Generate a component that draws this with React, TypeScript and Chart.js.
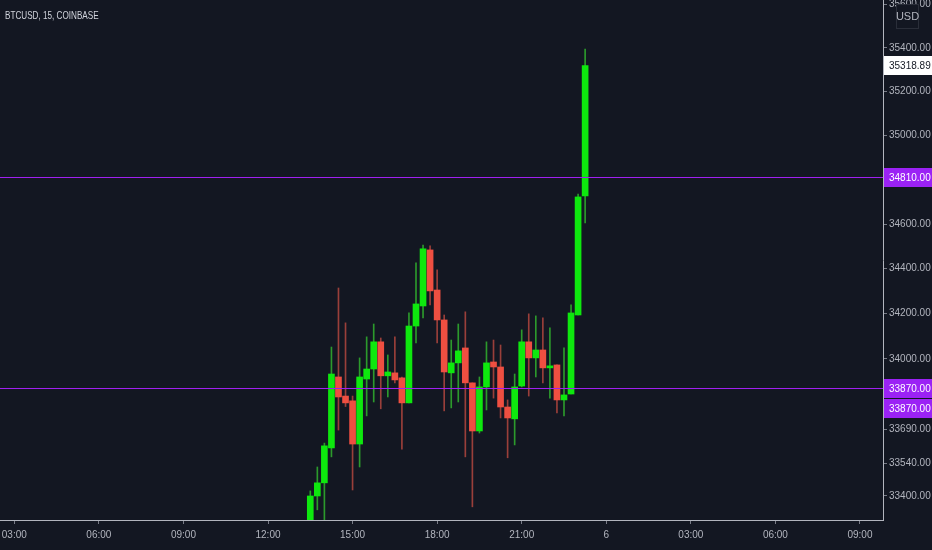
import { useEffect, useRef } from "react";
import { Chart, registerables } from "chart.js";

Chart.register(...registerables);

// 15 minute candles, 5th of the month
const times = [
  "13:30", "13:45", "14:00", "14:15", "14:30", "14:45", "15:00", "15:15",
  "15:30", "15:45", "16:00", "16:15", "16:30", "16:45", "17:00", "17:15",
  "17:30", "17:45", "18:00", "18:15", "18:30", "18:45", "19:00", "19:15",
  "19:30", "19:45", "20:00", "20:15", "20:30", "20:45", "21:00", "21:15",
  "21:30", "21:45", "22:00", "22:15", "22:30", "22:45", "23:00", "23:15",
];
const opens = [
  33275, 33400, 33457, 33609, 33920, 33836, 33815, 33626,
  33911, 33955, 34075, 33925, 33938, 33916, 33806, 34145,
  34234, 34484, 34305, 34172, 33938, 33982, 34048, 33894,
  33683, 33876, 33986, 33964, 33788, 33736, 33880, 34075,
  34004, 34039, 33960, 33973, 33819, 33845, 34194, 34726,
];
const highs = [
  33422, 33526, 33630, 34052, 34314, 34159, 33836, 34004,
  34097, 34154, 34092, 34017, 34097, 33920, 34203, 34426,
  34506, 34502, 34395, 34194, 34083, 34154, 34208, 33894,
  33920, 34075, 34083, 34061, 33819, 33933, 34128, 34199,
  34190, 34181, 34137, 33973, 34048, 34239, 34735, 35395,
];
const lows = [
  33240, 33340, 33280, 33570, 33687, 33790, 33426, 33526,
  33749, 33810, 33780, 33832, 33894, 33604, 33806, 34070,
  34181, 34239, 34070, 33771, 33784, 33810, 33570, 33353,
  33674, 33775, 33827, 33740, 33566, 33622, 33876, 33836,
  33920, 33894, 33827, 33762, 33749, 33845, 34194, 34605,
];
const closes = [
  33400, 33457, 33618, 33933, 33832, 33806, 33626, 33920,
  33955, 34075, 33925, 33942, 33907, 33806, 34145, 34243,
  34489, 34301, 34172, 33942, 33982, 34035, 33894, 33683,
  33876, 33982, 33964, 33788, 33740, 33876, 34075, 34004,
  34039, 33960, 33969, 33819, 33841, 34203, 34722, 35318.89,
];

const priceTicks = [33400, 33540, 33690, 34000, 34200, 34400, 34600, 35000, 35200, 35400, 35600];
const timeTickMinutes = [180, 360, 540, 720, 900, 1080, 1260, 1440, 1620, 1800, 1980];
const timeTickLabels = ["03:00", "06:00", "09:00", "12:00", "15:00", "18:00", "21:00", "6", "03:00", "06:00", "09:00"];

const levels = [34810, 33870];
const lastPrice = 35318.89;
const title = "BTCUSD, 15, COINBASE";

const BG = "#131722";
const TEXT = "#b2b5be";
const UP = "#0ee80e";
const DOWN = "#ef4f41";
const UP_WICK = "#2c9a2c";
const DOWN_WICK = "#9a3f3a";
const LEVEL = "#a020f0";
const BOX = "#9b22f5";
const FONT = '"Liberation Sans", Arial, sans-serif';

const toMinutes = (t: string) => {
  const [h, m] = t.split(":").map(Number);
  return h * 60 + m;
};

const overlay = {
  id: "overlay",
  afterDraw(chart: any) {
    const { ctx, chartArea, scales, width } = chart;
    ctx.save();

    // horizontal levels
    ctx.fillStyle = LEVEL;
    levels.forEach((lv) => {
      const y = Math.floor(scales.y.getPixelForValue(lv));
      ctx.fillRect(chartArea.left, y, chartArea.right - chartArea.left, 1);
    });

    const box = (y: number, bg: string, fg: string, value: number) => {
      const top = Math.round(y - 9.5);
      ctx.fillStyle = bg;
      ctx.fillRect(chartArea.right + 1, top, width - chartArea.right - 1, 19);
      ctx.fillStyle = fg;
      ctx.font = `10px ${FONT}`;
      ctx.textBaseline = "middle";
      ctx.textAlign = "left";
      ctx.fillText(value.toFixed(2), chartArea.right + 6, top + 10);
    };
    box(scales.y.getPixelForValue(lastPrice), "#ffffff", "#131722", lastPrice);
    box(scales.y.getPixelForValue(levels[0]), BOX, "#ffffff", levels[0]);
    const y2 = scales.y.getPixelForValue(levels[1]);
    box(y2, BOX, "#ffffff", levels[1]);
    box(y2 + 20, BOX, "#ffffff", levels[1]);

    // currency box over the top of the price scale
    ctx.fillStyle = BG;
    ctx.fillRect(896, 4, 23, 25);
    ctx.strokeStyle = "#2a2e39";
    ctx.strokeRect(896.5, 4.5, 22, 24);
    ctx.fillStyle = TEXT;
    ctx.font = `11px ${FONT}`;
    ctx.textAlign = "center";
    ctx.textBaseline = "middle";
    ctx.fillText("USD", 907.5, 17);

    // symbol title, condensed like the reference
    ctx.fillStyle = "#d1d4dc";
    ctx.textAlign = "left";
    ctx.font = `11px ${FONT}`;
    ctx.translate(5, 15.5);
    ctx.scale(0.74, 1);
    ctx.fillText(title, 0, 0);
    ctx.restore();
  },
};

export default function App() {
  const chartRef = useRef<HTMLCanvasElement>(null);
  const chartInstance = useRef<Chart | null>(null);

  useEffect(() => {
    if (!chartRef.current) return;
    if (chartInstance.current) chartInstance.current.destroy();

    const xs = times.map(toMinutes);
    const up = closes.map((c, i) => c >= opens[i]);

    chartInstance.current = new Chart(chartRef.current, {
      type: "bar",
      data: {
        datasets: [
          {
            label: "body",
            data: xs.map((x, i) => ({ x, y: [opens[i], closes[i]] })) as any,
            backgroundColor: up.map((u) => (u ? UP : DOWN)),
            borderWidth: 0,
            barThickness: 6,
            minBarLength: 1,
            grouped: false,
          },
          {
            label: "wick",
            data: xs.map((x, i) => ({ x, y: [lows[i], highs[i]] })) as any,
            backgroundColor: up.map((u) => (u ? UP_WICK : DOWN_WICK)),
            borderWidth: 0,
            barThickness: 1,
            grouped: false,
          },
        ],
      },
      options: {
        animation: false,
        responsive: true,
        maintainAspectRatio: false,
        devicePixelRatio: 1,
        events: [],
        layout: { padding: 0 },
        plugins: { legend: { display: false }, tooltip: { enabled: false } },
        scales: {
          x: {
            type: "linear",
            min: 149.56,
            max: 2029,
            offset: false,
            grid: { display: true, offset: false, drawOnChartArea: false, drawTicks: true, tickLength: 4, color: "#787b86" },
            border: { color: TEXT },
            ticks: {
              color: TEXT,
              font: { family: FONT, size: 10 },
              padding: 5,
              maxRotation: 0,
              autoSkip: false,
              callback: (v: any) => timeTickLabels[timeTickMinutes.indexOf(Number(v))] ?? "",
            },
            afterBuildTicks: (axis: any) => {
              axis.ticks = timeTickMinutes.map((value) => ({ value }));
            },
            afterFit: (axis: any) => {
              axis.height = 30;
              axis.paddingLeft = 0;
              axis.paddingRight = 0;
            },
          },
          y: {
            type: "logarithmic",
            position: "right",
            min: 33296,
            max: 35621,
            grid: { display: true, drawOnChartArea: false, drawTicks: true, tickLength: 4, color: "#787b86" },
            border: { color: TEXT },
            ticks: {
              color: TEXT,
              font: { family: FONT, size: 10 },
              padding: 2,
              autoSkip: false,
              callback: (v: any) => Number(v).toFixed(2),
            },
            afterBuildTicks: (axis: any) => {
              axis.ticks = priceTicks.map((value) => ({ value }));
            },
            afterFit: (axis: any) => {
              axis.width = 49;
              axis.paddingTop = 0;
              axis.paddingBottom = 0;
            },
          },
        },
      },
      plugins: [overlay],
    });

    return () => {
      if (chartInstance.current) {
        chartInstance.current.destroy();
        chartInstance.current = null;
      }
    };
  }, []);

  return (
    <div style={{ position: "fixed", left: 0, top: 0, width: 932, height: 550, background: BG }}>
      <canvas ref={chartRef} />
    </div>
  );
}
